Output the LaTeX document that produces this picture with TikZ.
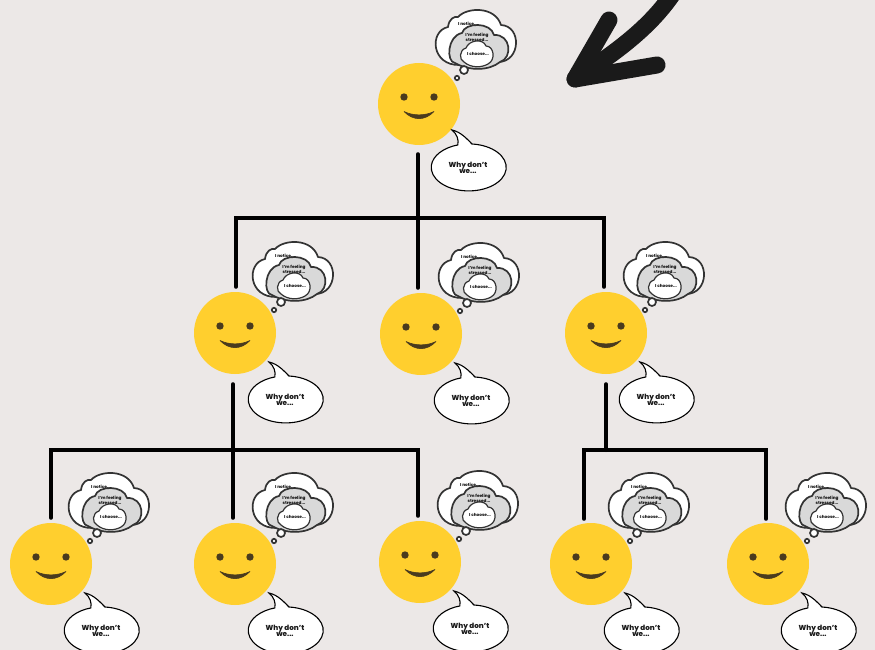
\documentclass[tikz,border=0pt]{standalone}
\usepackage{fontspec}
\setmainfont{Poppins}[BoldFont={Poppins ExtraBold}]
\definecolor{Wall}{HTML}{ECE8E7}
\definecolor{Sunny}{HTML}{FFCF2E}
\definecolor{Cocoa}{HTML}{4A3B1E}
\definecolor{Outline}{HTML}{333333}
\definecolor{Inkblot}{HTML}{1A1A1A}
\definecolor{Midcloud}{HTML}{D9D9D9}
\tikzset{
  treeline/.style={line width=4pt,black,line cap=round},
  smiley/.style={circle,fill=Sunny,minimum size=82pt,inner sep=0pt},
  cloudline/.style={draw=Outline,line width=1.7pt,line join=round},
  ring/.style={draw=Outline,line width=1.7pt,fill=white},
  tinytext/.style={font=\fontsize{4.2}{4.2}\selectfont\bfseries,text=Inkblot,align=center,inner sep=0pt},
  whytext/.style={font=\fontsize{7.2}{6.6}\selectfont\bfseries,text=Inkblot,align=center,inner sep=0pt},
  scrawl/.style={line width=17pt,Inkblot,line cap=round,line join=round},
}
\begin{document}
\begin{tikzpicture}[x=1pt,y=-1pt]
    \useasboundingbox (0,0) rectangle (875,650);
    \clip (0,0) rectangle (875,650);
    \fill[Wall] (0,0) rectangle (875,650);
    % everyone in the tree
    \foreach \who/\x/\y/\dx/\dy in {root/419/104/0/0,teamA/235/333/1/3,teamB/421/334/1/3,teamC/606/333/1/3,leafA/51/564/1/3,leafB/235/564/1/3,leafC/420/562/1/3,leafD/591/564/1/3,leafE/768/564/1/3}{
      \begin{scope}[shift={(\x,\y)}]
        \node[smiley] (\who) at (0,0) {};
        \fill[Cocoa] (-15,-7) circle (3.7pt) (15,-7) circle (3.7pt);
        \draw[Cocoa,fill=Cocoa,line width=.6pt,line join=round] (-15,7.5) .. controls (-6,12) and (6,12) .. (15,7.5) .. controls (6,17) and (-6,17) .. cycle;
      \end{scope}
      \begin{scope}[shift={(\x+\dx,\y+\dy)}]
        % thought cloud
        \draw[cloudline,fill=white] (41,-39) .. controls (12,-38) and (10,-73) .. (29,-77)
          .. controls (30,-85) and (35,-88) .. (39,-87) .. controls (48,-97) and (76,-98) .. (82,-79)
          .. controls (103,-78) and (102,-42) .. (79,-42) .. controls (70,-34) and (52,-34) .. cycle;
        \draw[cloudline,fill=Midcloud] (43,-71) .. controls (46,-82) and (72,-82) .. (75,-69)
          .. controls (92,-70) and (94,-46) .. (81,-42) .. controls (70,-33) and (50,-33) .. (36,-41)
          .. controls (27,-42) and (28,-68) .. cycle;
        \draw[cloudline,line width=1.2pt,fill=white] (47,-56) .. controls (50,-64) and (64,-66) .. (67,-58)
          .. controls (75,-58) and (77,-44) .. (69,-40) .. controls (62,-36) and (52,-36) .. (45,-42)
          .. controls (40,-44) and (40,-54) .. cycle;
        \draw[ring] (45,-34) circle (4pt);
        \draw[ring] (38,-26) circle (2.2pt);
        \node[tinytext] (\who-notice) at (49,-80.5) {I notice...};
        \node[tinytext] (\who-feeling) at (58,-66.5) {I'm feeling\\stressed...};
        \node[tinytext] (\who-choose) at (59,-50.5) {I choose...};
        % speech bubble
        \draw[black,line width=1.1pt,fill=white] (53,40) arc[start angle=85,end angle=-253,x radius=37.5pt,y radius=23.5pt]
          .. controls (40,36) and (38,30) .. (33,26) .. controls (42,28) and (48,35) .. (53,40) -- cycle;
        \node[whytext] (\who-why) at (49,64) {Why don't\\we...};
      \end{scope}
    }
    % branches
    \coordinate (barA) at (418,218);
    \coordinate (barB) at (233,450);
    \coordinate (barC) at (606,450);
    \draw[treeline,shorten <=9pt] ([xshift=-1pt]root.south) -- (barA);
    \draw[treeline,shorten >=5pt] (barA) -| ([xshift=1pt]teamA.north);
    \draw[treeline,shorten >=5pt] (barA) -- ([xshift=-3pt]teamB.north);
    \draw[treeline,shorten >=5pt] (barA) -| ([xshift=-2pt]teamC.north);
    \draw[treeline,shorten <=10pt] ([xshift=-2pt]teamA.south) -- (barB);
    \draw[treeline,shorten >=5pt] (barB) -- ([xshift=-2pt]leafB.north);
    \draw[treeline,shorten >=5pt] (barB) -| (leafA.north);
    \draw[treeline,shorten >=5pt] (barB) -| ([xshift=-2pt]leafC.north);
    \draw[treeline,shorten <=10pt] (teamC.south) -- (barC);
    \draw[treeline,shorten >=4pt] (barC) -| ([xshift=-7pt]leafD.north);
    \draw[treeline,shorten >=4pt] (barC) -| ([xshift=-2pt]leafE.north);
    % big arrow top right
    \coordinate (tip) at (575,79);
    \coordinate (armA) at (609,20);
    \coordinate (armB) at (657,65);
    \coordinate (tail) at (674,-8);
    \draw[scrawl] (armA) -- (tip) -- (armB);
    \draw[scrawl] (tail) .. controls (652,25) and (620,50) .. (tip);
\end{tikzpicture}
\end{document}
